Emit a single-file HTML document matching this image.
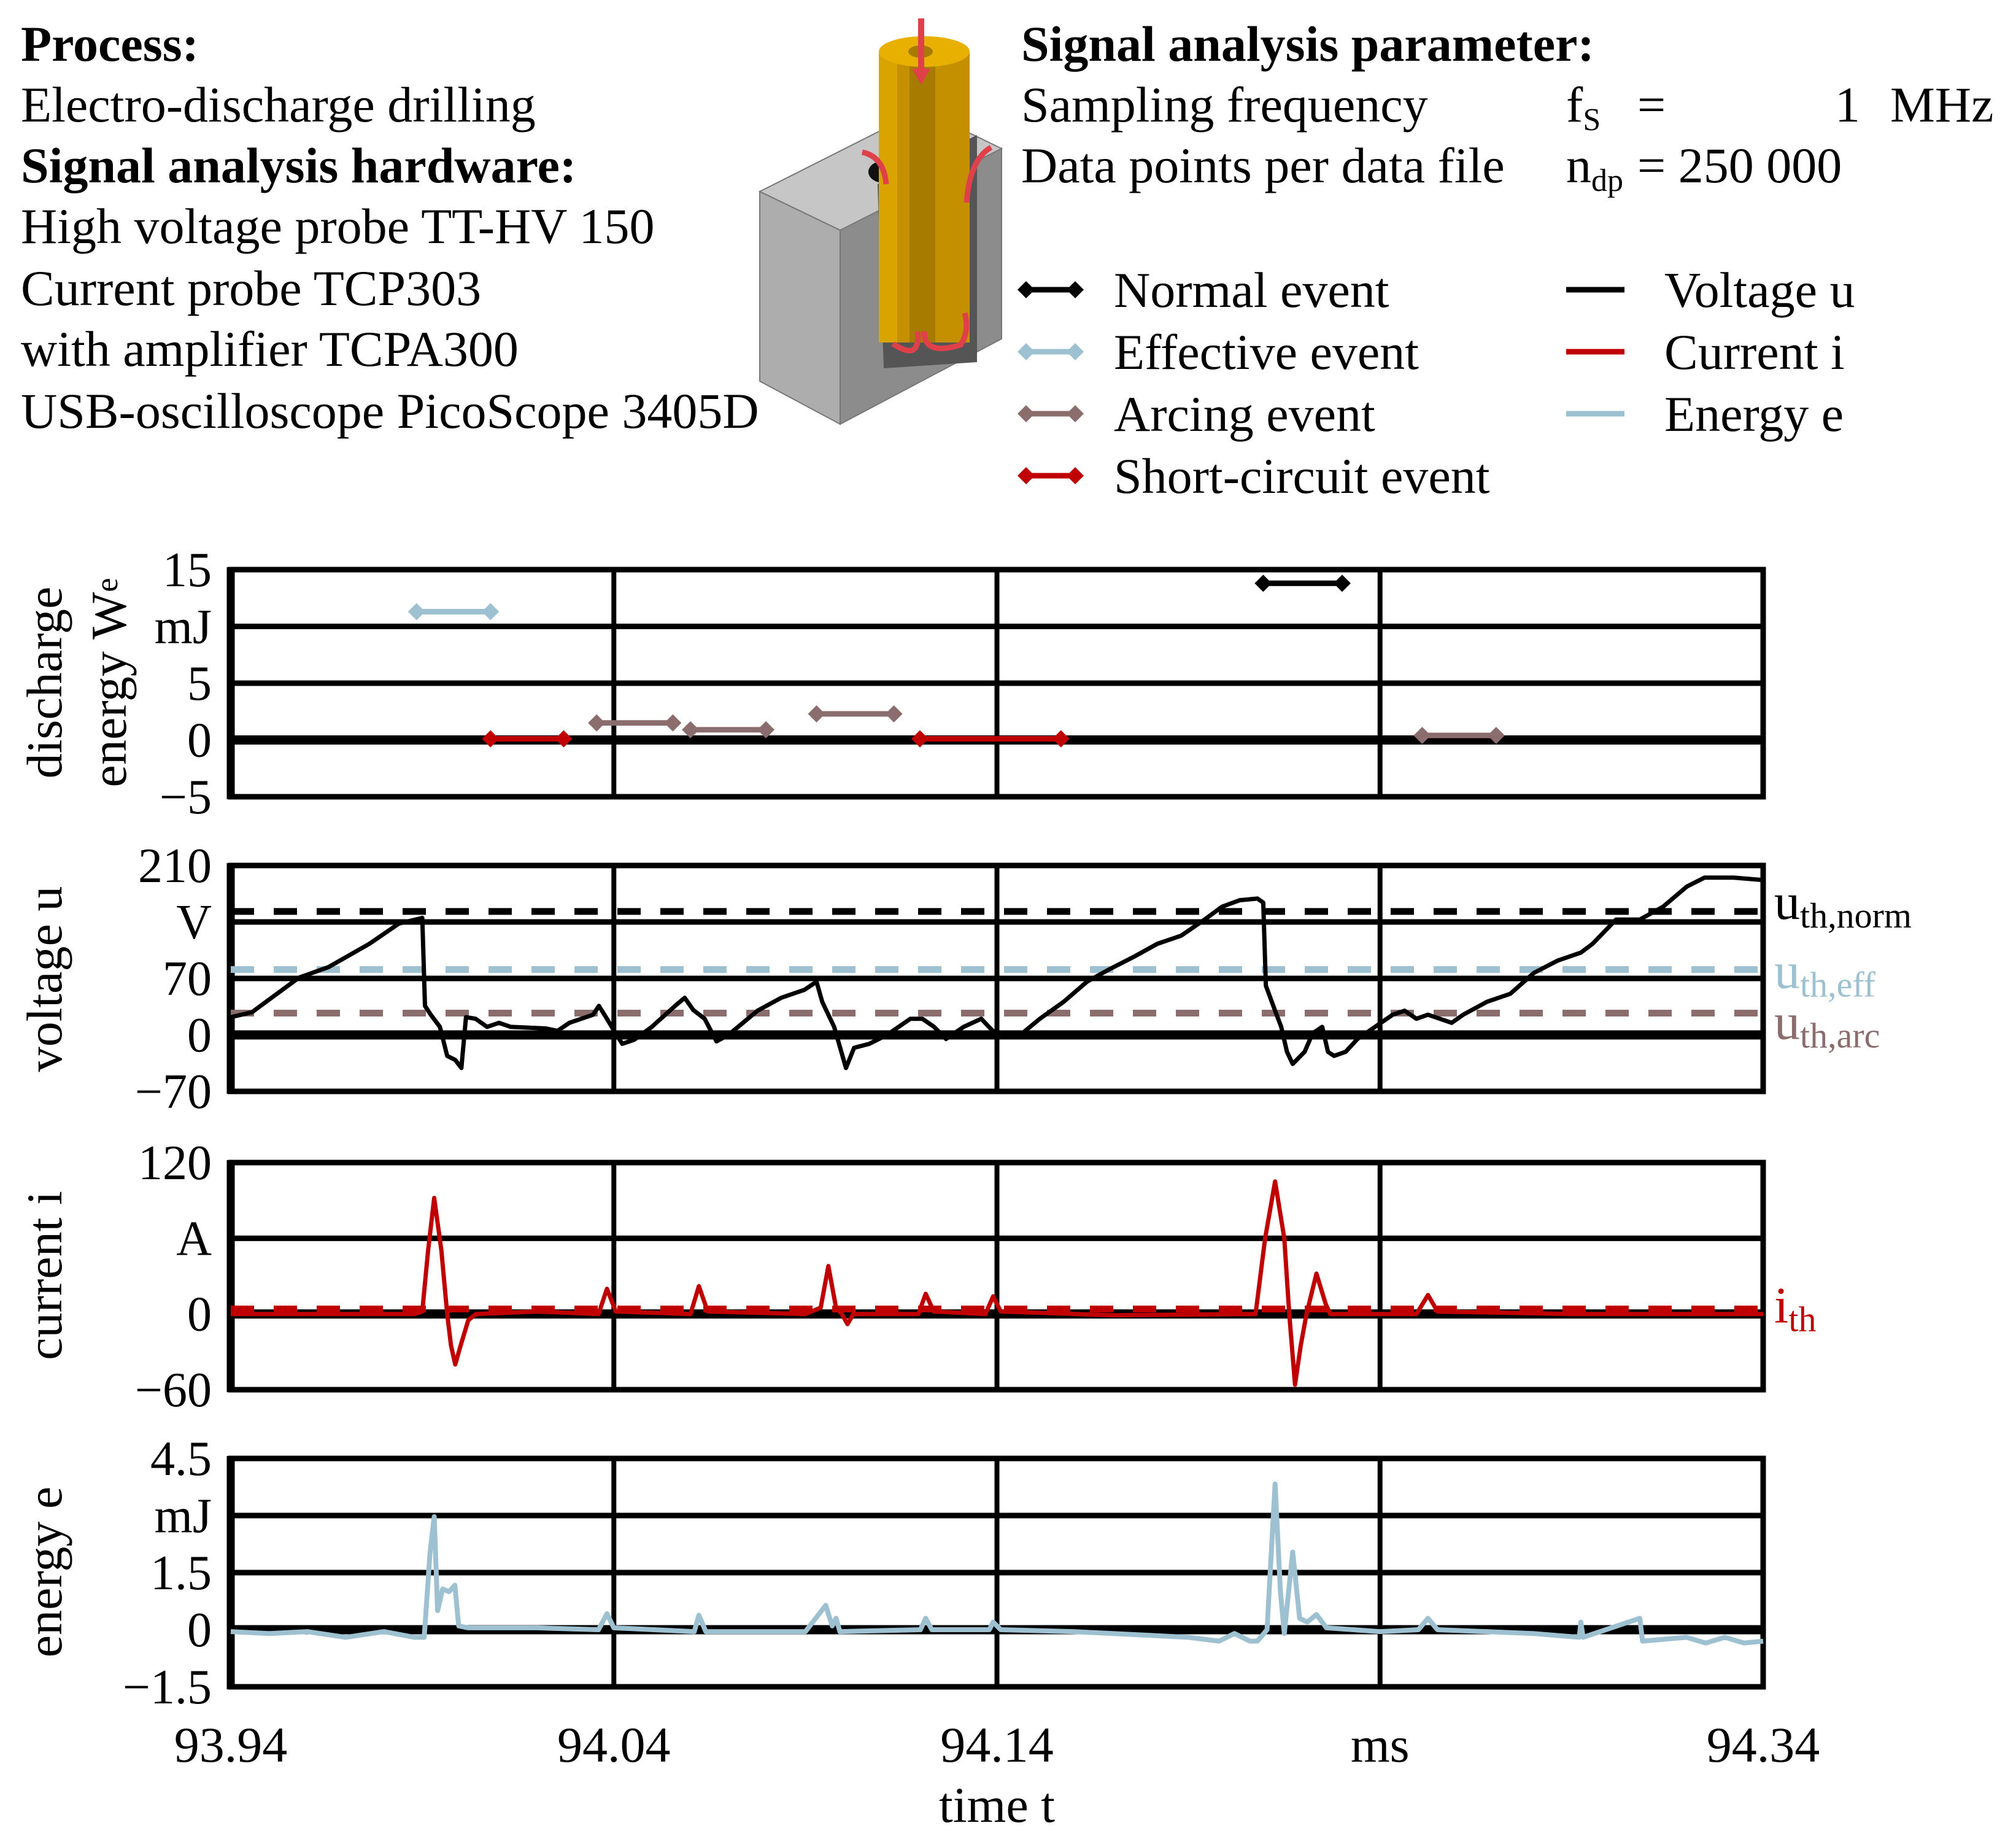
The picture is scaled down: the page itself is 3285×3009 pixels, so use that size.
<!DOCTYPE html>
<html><head><meta charset="utf-8">
<style>
html,body{margin:0;padding:0;background:#fff;}
svg{display:block;font-family:"Liberation Serif",serif;}
</style></head>
<body>
<svg id="fig" width="3285" height="3009" viewBox="0 0 3285 3009" xmlns="http://www.w3.org/2000/svg">
<g font-size="82" fill="#000">
<text x="34" y="99" font-weight="bold">Process:</text>
<text x="34" y="198">Electro-discharge drilling</text>
<text x="34" y="297" font-weight="bold">Signal analysis hardware:</text>
<text x="34" y="396">High voltage probe TT-HV 150</text>
<text x="34" y="497">Current probe TCP303</text>
<text x="34" y="596">with amplifier TCPA300</text>
<text x="34" y="697">USB-oscilloscope PicoScope 3405D</text>
</g>
<g>
<polygon points="1238,312 1369,375 1369,691 1238,621" fill="#adadad" stroke="#777" stroke-width="2"/>
<polygon points="1369,375 1632,242 1632,552 1369,691" fill="#8c8c8c" stroke="#777" stroke-width="2"/>
<polygon points="1238,312 1502,179 1632,242 1369,375" fill="#c6c6c6" stroke="#777" stroke-width="2"/>
<polygon points="1430,300 1592,220 1592,590 1440,600" fill="#555"/>
<ellipse cx="1440" cy="280" rx="25" ry="18" fill="#111"/>
<rect x="1432" y="84" width="148" height="474" fill="#c49000"/>
<rect x="1432" y="84" width="30" height="474" fill="#d9a300"/>
<rect x="1482" y="84" width="42" height="474" fill="#a77a00"/>
<ellipse cx="1506" cy="84" rx="74" ry="25" fill="#e8b000"/>
<ellipse cx="1500" cy="84" rx="20" ry="10" fill="#a77a00"/>
<line x1="1501" y1="30" x2="1501" y2="120" stroke="#e0404a" stroke-width="10"/>
<polygon points="1486,112 1516,112 1501,138" fill="#e0404a"/>
<path d="M1455 560 Q1500 590 1495 540 M1506 540 Q1505 580 1565 562 Q1580 540 1572 510" stroke="#e0404a" stroke-width="9" fill="none"/>
<path d="M1444 300 Q1440 255 1405 248 M1575 330 Q1580 260 1615 240" stroke="#e0404a" stroke-width="9" fill="none"/>
</g>
<g font-size="82" fill="#000">
<text x="1664" y="99" font-weight="bold">Signal analysis parameter:</text>
<text x="1664" y="198">Sampling frequency</text>
<text x="2552" y="198">f<tspan font-size="52" dy="14">S</tspan></text>
<text x="2668" y="198">=</text>
<text x="2990" y="198">1</text>
<text x="3080" y="198">MHz</text>
<text x="1664" y="297">Data points per data file</text>
<text x="2552" y="297">n<tspan font-size="52" dy="14">dp</tspan></text>
<text x="2668" y="297">= 250 000</text>
</g>
<g id="legend" font-size="82"></g>
<g id="plots"></g>
</svg>
<script>
const NS="http://www.w3.org/2000/svg";
const plots=document.getElementById('plots');
const legend=document.getElementById('legend');
// ---- data ----
const tStart=93.94, tEnd=94.34;
const xTickLabels=["93.94","94.04","94.14","ms","94.34"];
const eventStart=[93.9885,94.0078,94.0355,94.0600,94.0929,94.1199,94.2095,94.2510];
const eventEnd=[94.0078,94.0269,94.0554,94.0797,94.1131,94.1567,94.2301,94.2703];
const eventEnergy=[11.3,0.1,1.5,0.9,2.3,0.1,13.8,0.4];
const eventType=["effective","short","arc","arc","arc","short","normal","arc"];
const voltTimeUs=[0,5.5,17.8,25.5,36.2,43.9,50,50.7,52.2,54.6,56.5,58.6,60.2,61.4,63.9,66.9,70,73.1,82.3,85.3,88.4,94.6,96.1,98.2,100.7,102.2,105.3,109.9,116,118.5,120.7,123.7,126.8,129.9,137.5,143.7,149.8,152.9,154.4,157.5,160.6,162.7,166.7,171.3,177.4,180.5,183.6,186.7,191.3,195.9,198.9,202,206.6,211.2,217.4,223.5,229.6,235.8,241.9,248.1,254.2,258.8,263.4,268,269.5,270.2,272.6,274.2,275.7,277.2,280.3,282.4,284.9,286.4,288,291,294.1,298.7,303.3,306.4,309.5,312.5,318.7,321.7,327.9,334,340.2,346.3,352.4,355.5,361.6,367.8,373.9,380.1,384.7,392.3,400];
const voltValues=[22,28,71,84,113,138,145,36,25,10,-26,-31,-41,22,20,10,15,10,8,5,15,25,36,20,0,-11,-6,10,36,46,31,20,-8,0,30,46,56,66,41,10,-41,-16,-11,0,20,20,10,-5,10,20,5,0,2,20,41,66,82,97,113,123,143,159,167,169,164,61,30,10,-21,-36,-21,2,10,-21,-26,-21,-5,10,25,30,20,25,15,25,41,51,77,92,102,113,143,143,159,184,195,195,192];
const curTimeUs=[0,48,50,51.5,53.1,55,56.5,57.5,58.6,60,62,64,80,96,98.2,100.5,120,122.2,124.5,150,154,156,158,159.5,161,162.5,179.5,181.4,183.5,197,199,201,230,267.5,270,272.6,275,276.3,277.8,279.3,280.8,283.4,285.8,287,300,309.5,312.5,315,350,400];
const curValues=[0,0,2,50,92,50,0,-25,-40,-25,-5,0,2,0,20,2,0,22,2,0,5,38,5,0,-8,0,0,16,2,0,14,2,-1,0,60,105,60,0,-56,-25,0,32,8,0,0,0,15,2,0,0];
const enTimeUs=[0,10,20,30,40,48,50.5,52,53.1,54,55.3,57,58.5,59.5,62,80,96,98.2,100,121,122.2,124,150,155.3,157,158,159,180,181.4,183,198,199,201,220,240,250,258,262,266,268,270.5,272.6,274,275,277.2,279,281,283.4,286,300,310,312.5,315,340,352,352.4,353,367.8,368.5,380,385,390,395,400];
const enValues=[-0.05,-0.1,-0.05,-0.2,-0.05,-0.2,-0.2,2,2.97,0.5,1.07,1.0,1.17,0.1,0.05,0.05,0,0.42,0.05,-0.05,0.38,-0.05,-0.05,0.64,0.1,0.3,-0.05,0,0.3,0,0,0.2,0,-0.05,-0.15,-0.2,-0.3,-0.1,-0.3,-0.3,0,3.83,1,-0.1,2.04,0.3,0.2,0.4,0.05,-0.05,0,0.3,0,-0.1,-0.2,0.2,-0.2,0.3,-0.3,-0.2,-0.35,-0.2,-0.35,-0.3];
const uThNorm=153, uThEff=81, uThArc=27, iTh=4;
const p1Ticks=["15","mJ","5","0","\u22125"], p2Ticks=["210","V","70","0","\u221270"], p3Ticks=["120","A","0","\u221260"], p4Ticks=["4.5","mJ","1.5","0","\u22121.5"];
// ---- layout ----
const X0=376, X1=2873;
const panels=[
 {name:'discharge-energy',top:928,bot:1298,min:-5,max:15,ticks:p1Ticks},
 {name:'voltage',top:1410,bot:1778,min:-70,max:210,ticks:p2Ticks},
 {name:'current',top:1894,bot:2264,min:-60,max:120,ticks:p3Ticks},
 {name:'energy',top:2376,bot:2748,min:-1.5,max:4.5,ticks:p4Ticks}];
const xs=t=>X0+(t-tStart)/(tEnd-tStart)*(X1-X0);
const xus=u=>xs(tStart+u/1000);
function ys(p,v){return p.bot-(v-p.min)/(p.max-p.min)*(p.bot-p.top);}
function mk(tag,attrs,parent){const e=document.createElementNS(NS,tag);for(const k in attrs)e.setAttribute(k,attrs[k]);(parent||plots).appendChild(e);return e;}
const colors={normal:'#000',effective:'#9ec1d1',arc:'#8c6d6d',short:'#c00000'};
panels.forEach((p,pi)=>{
 const g=mk('g',{});
 
 
 p.g=g;
 const n=p.ticks.length;
 p.ticks.forEach((lab,i)=>{
  const y=p.top+i*(p.bot-p.top)/(n-1);
  const isZero=lab==="0";
  const ln=mk('line',{x1:X0,x2:X1,y1:y,y2:y,stroke:'#000','stroke-width':isZero?15:9},g);
  
  
  const tx=mk('text',{x:345,y:y+27,'text-anchor':'end','font-size':80},g);
  tx.textContent=lab;
  
  
 });
 for(let k=1;k<4;k++){const x=X0+k*(X1-X0)/4;const v=mk('line',{x1:x,x2:x,y1:p.top,y2:p.bot,stroke:'#000','stroke-width':8},g);
  
  }
 const fr=mk('rect',{x:X0,y:p.top,width:X1-X0,height:p.bot-p.top,fill:'none',stroke:'#000','stroke-width':9},g);
 
 
 const l=mk('line',{x1:X0,x2:X0,y1:p.top-4,y2:p.bot+4,stroke:'#000','stroke-width':13},g);
 
 
});
function ytitle(text,x,cy,name){const t=mk('text',{x:0,y:0,'font-size':82,'text-anchor':'middle',transform:`translate(${x},${cy}) rotate(-90)`});t.innerHTML=text;
 
 }
ytitle('discharge',100,1112,'y-axis-title-discharge');
ytitle('energy W<tspan font-size="52" dy="-14">e</tspan>',205,1112,'y-axis-title-energy-we');
ytitle('voltage u',100,1595,'y-axis-title-voltage');
ytitle('current i',100,2078,'y-axis-title-current');
ytitle('energy e',100,2561,'y-axis-title-energy');
const P1=panels[0];
eventStart.forEach((s,i)=>{
 const c=colors[eventType[i]], y=ys(P1,eventEnergy[i]);
 const g=mk('g',{},P1.g);
 
 
 mk('line',{x1:xs(s),x2:xs(eventEnd[i]),y1:y,y2:y,stroke:c,'stroke-width':9},g);
 [s,eventEnd[i]].forEach(t=>{const x=xs(t);mk('polygon',{points:`${x-14},${y} ${x},${y-14} ${x+14},${y} ${x},${y+14}`,fill:c},g);});
});
function series(p,tu,vals,color,w,name){
 const d=tu.map((u,i)=>(i?'L':'M')+xus(u).toFixed(1)+' '+ys(p,vals[i]).toFixed(1)).join(' ');
 const pa=mk('path',{d,stroke:color,'stroke-width':w,fill:'none','stroke-linejoin':'round'},p.g);
 
 
}
function thresh(p,v,color,name,label,lx){
 const y=ys(p,v);
 const l=mk('line',{x1:X0,x2:X1,y1:y,y2:y,stroke:color,'stroke-width':11,'stroke-dasharray':'38 32'},p.g);
 
 
 if(label){const t=mk('text',{x:2891,y:y+lx,'font-size':84,fill:color},p.g);t.innerHTML=label;
  
  }
}
const P2=panels[1],P3=panels[2],P4=panels[3];
thresh(P2,uThNorm,'#000','u-threshold-norm','u<tspan font-size="58" dy="14">th,norm</tspan>',12);
thresh(P2,uThEff,'#9ec1d1','u-threshold-eff','u<tspan font-size="58" dy="14">th,eff</tspan>',30);
thresh(P2,uThArc,'#8c6d6d','u-threshold-arc','u<tspan font-size="58" dy="14">th,arc</tspan>',42);
series(P2,voltTimeUs,voltValues,'#000',7,'voltage-line');
series(P3,curTimeUs,curValues,'#c00000',7,'current-line');
thresh(P3,iTh,'#c00000','i-threshold','i<tspan font-size="58" dy="14">th</tspan>',22);
series(P4,enTimeUs,enValues,'#9ec1d1',8,'energy-line');
xTickLabels.forEach((lab,i)=>{const t=mk('text',{x:X0+i*(X1-X0)/4,y:2870,'font-size':82,'text-anchor':'middle'});t.textContent=lab;
 
 });
const xt=mk('text',{x:(X0+X1)/2,y:2968,'font-size':82,'text-anchor':'middle'});xt.textContent='time t';


const legEvents=[['Normal event','normal'],['Effective event','effective'],['Arcing event','arc'],['Short-circuit event','short']];
legEvents.forEach((e,i)=>{const y=472+i*101;const g=mk('g',{},legend);
 
 
 const c=colors[e[1]];
 mk('line',{x1:1672,x2:1752,y1:y,y2:y,stroke:c,'stroke-width':9},g);
 [1672,1752].forEach(x=>mk('polygon',{points:`${x-14},${y} ${x},${y-14} ${x+14},${y} ${x},${y+14}`,fill:c},g));
 const t=mk('text',{x:1815,y:y+28},g);t.textContent=e[0];});
const legLines=[['Voltage u','#000'],['Current i','#c00000'],['Energy e','#9ec1d1']];
legLines.forEach((e,i)=>{const y=472+i*101;const g=mk('g',{},legend);
 
 
 mk('line',{x1:2552,x2:2647,y1:y,y2:y,stroke:e[1],'stroke-width':9},g);
 const t=mk('text',{x:2712,y:y+28},g);t.textContent=e[0];});
</script>
</body></html>
